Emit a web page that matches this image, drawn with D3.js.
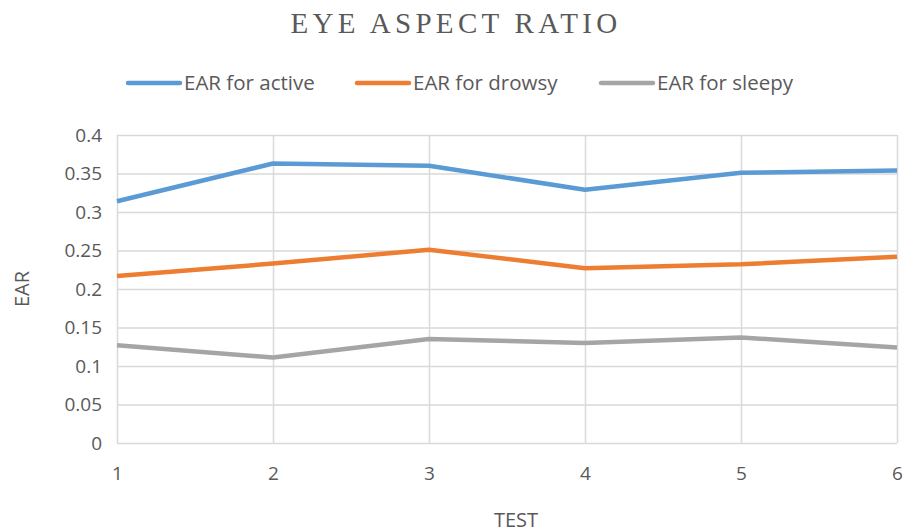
<!DOCTYPE html>
<html>
<head>
<meta charset="utf-8">
<script src="https://cdn.jsdelivr.net/npm/d3@7"></script>
<style>
  body { margin: 0; background: #fff; }
  svg { display: block; }
</style>
</head>
<body>
<svg id="svg" width="906" height="532"></svg>
<script>
// data
var tests = [1, 2, 3, 4, 5, 6];
var earActive = [0.314, 0.363, 0.360, 0.329, 0.351, 0.354];
var earDrowsy = [0.217, 0.233, 0.251, 0.227, 0.232, 0.242];
var earSleepy = [0.127, 0.111, 0.135, 0.130, 0.137, 0.124];
var seriesNames = ["EAR for active", "EAR for drowsy", "EAR for sleepy"];
var yTicks = [0, 0.05, 0.1, 0.15, 0.2, 0.25, 0.3, 0.35, 0.4];

var colors = ["#5b9bd5", "#ed7d31", "#a5a5a5"];
var allSeries = [earActive, earDrowsy, earSleepy];

var svg = d3.select("#svg");
var padding = {top: 135, right: 9, bottom: 89, left: 117};
var chartArea = {
    width: 906 - padding.left - padding.right,
    height: 532 - padding.top - padding.bottom
};

var xScale = d3.scaleLinear().domain([1, 6]).range([0, chartArea.width]);
var yScale = d3.scaleLinear().domain([0, 0.4]).range([chartArea.height, 0]);

var g = svg.append("g")
    .attr("transform", "translate(" + padding.left + "," + padding.top + ")");

// gridlines
g.append("g")
    .call(d3.axisLeft(yScale).tickValues(yTicks).tickSize(-chartArea.width).tickFormat(""))
    .call(function (s) { s.select(".domain").remove(); })
    .selectAll("line").attr("stroke", "#d9d9d9").attr("stroke-width", 1.5);

g.append("g")
    .attr("transform", "translate(0," + chartArea.height + ")")
    .call(d3.axisBottom(xScale).tickValues(tests).tickSize(-chartArea.height).tickFormat(""))
    .call(function (s) { s.select(".domain").remove(); })
    .selectAll("line").attr("stroke", "#d9d9d9").attr("stroke-width", 1.5);

// tick labels
var yAxis = g.append("g")
    .call(d3.axisLeft(yScale).tickValues(yTicks).tickSize(0).tickPadding(15)
        .tickFormat(function (d) { return d3.format("")(+d.toFixed(2)); }));
yAxis.select(".domain").remove();
yAxis.selectAll("text")
    .attr("font-family", "'Open Sans', sans-serif")
    .attr("font-size", "19px")
    .attr("fill", "#595959");

var xAxis = g.append("g")
    .attr("transform", "translate(0," + chartArea.height + ")")
    .call(d3.axisBottom(xScale).tickValues(tests).tickSize(0).tickPadding(24).tickFormat(d3.format("d")));
xAxis.select(".domain").remove();
xAxis.selectAll("text")
    .attr("font-family", "'Open Sans', sans-serif")
    .attr("font-size", "19px")
    .attr("fill", "#595959");

// lines
var line = d3.line()
    .x(function (d, i) { return xScale(tests[i]); })
    .y(function (d) { return yScale(d); });

allSeries.forEach(function (arr, k) {
    g.append("path")
        .datum(arr)
        .attr("fill", "none")
        .attr("stroke", colors[k])
        .attr("stroke-width", 4.5)
        .attr("stroke-linejoin", "round")
        .attr("d", line);
});

// title
svg.append("text")
    .attr("x", 456).attr("y", 33)
    .attr("text-anchor", "middle")
    .attr("font-family", "'Liberation Serif', serif")
    .attr("font-size", "29px")
    .attr("letter-spacing", "4.3px")
    .attr("fill", "#595959")
    .text("EYE ASPECT RATIO");

// axis titles
svg.append("text")
    .attr("transform", "translate(29,289) rotate(-90)")
    .attr("text-anchor", "middle")
    .attr("font-family", "'Open Sans', sans-serif")
    .attr("font-size", "20px")
    .attr("fill", "#595959")
    .text("EAR");

svg.append("text")
    .attr("x", 516).attr("y", 527)
    .attr("text-anchor", "middle")
    .attr("font-family", "'Open Sans', sans-serif")
    .attr("font-size", "20px")
    .attr("fill", "#595959")
    .text("TEST");

// legend
var legendX = [128, 357, 601];
var legend = svg.append("g");
seriesNames.forEach(function (name, k) {
    legend.append("line")
        .attr("x1", legendX[k]).attr("x2", legendX[k] + 52)
        .attr("y1", 83).attr("y2", 83)
        .attr("stroke", colors[k]).attr("stroke-width", 4.5)
        .attr("stroke-linecap", "round");
    legend.append("text")
        .attr("x", legendX[k] + 56).attr("y", 90)
        .attr("font-family", "'Open Sans', sans-serif")
        .attr("font-size", "20.5px")
        .attr("fill", "#595959")
        .text(name);
});
</script>
</body>
</html>
